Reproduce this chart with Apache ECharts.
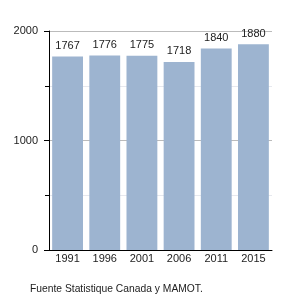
<!DOCTYPE html>
<html><head><meta charset="utf-8">
<script src="https://cdn.jsdelivr.net/npm/echarts@6/dist/echarts.min.js"></script>
<style>html,body{margin:0;padding:0;background:#fff}#c{width:300px;height:300px}</style>
</head><body><div id="c"></div>
<script>
const categories = ['1991','1996','2001','2006','2011','2015'];
const values = [1767,1776,1775,1718,1840,1880];
const yTicks = [0,1000,2000];
const source = 'Fuente Statistique Canada y MAMOT.';

const chart = echarts.init(document.getElementById('c'));
chart.setOption({
  animation:false,
  textStyle:{fontFamily:'Liberation Sans, Arial, sans-serif'},
  grid:{left:49,right:28,top:31,bottom:50},
  xAxis:{type:'category',data:categories,
    axisLine:{lineStyle:{color:'#000'}},axisTick:{show:false},
    axisLabel:{color:'#222',fontSize:11,margin:3}},
  yAxis:{type:'value',min:0,max:2000,interval:1000,
    axisLine:{show:true,lineStyle:{color:'#000'}},
    axisTick:{show:true,length:5,lineStyle:{color:'#000'}},
    minorTick:{show:true,splitNumber:2,length:4,lineStyle:{color:'#000'}},
    splitLine:{show:true,lineStyle:{color:'#bbb'}},
    minorSplitLine:{show:true,lineStyle:{color:'#e6e8ee'}},
    axisLabel:{color:'#222',fontSize:11,margin:11,formatter:v=>String(v)}},
  series:[{type:'bar',data:values,barCategoryGap:'17%',
    itemStyle:{color:'#9db4d0'},
    label:{show:true,position:'top',color:'#222',fontSize:11,distance:5}}],
  graphic:[{type:'text',left:30,top:284,style:{text:source,fill:'#222',fontSize:10.3,fontFamily:'Liberation Sans, Arial, sans-serif'}}]
});
</script></body></html>
